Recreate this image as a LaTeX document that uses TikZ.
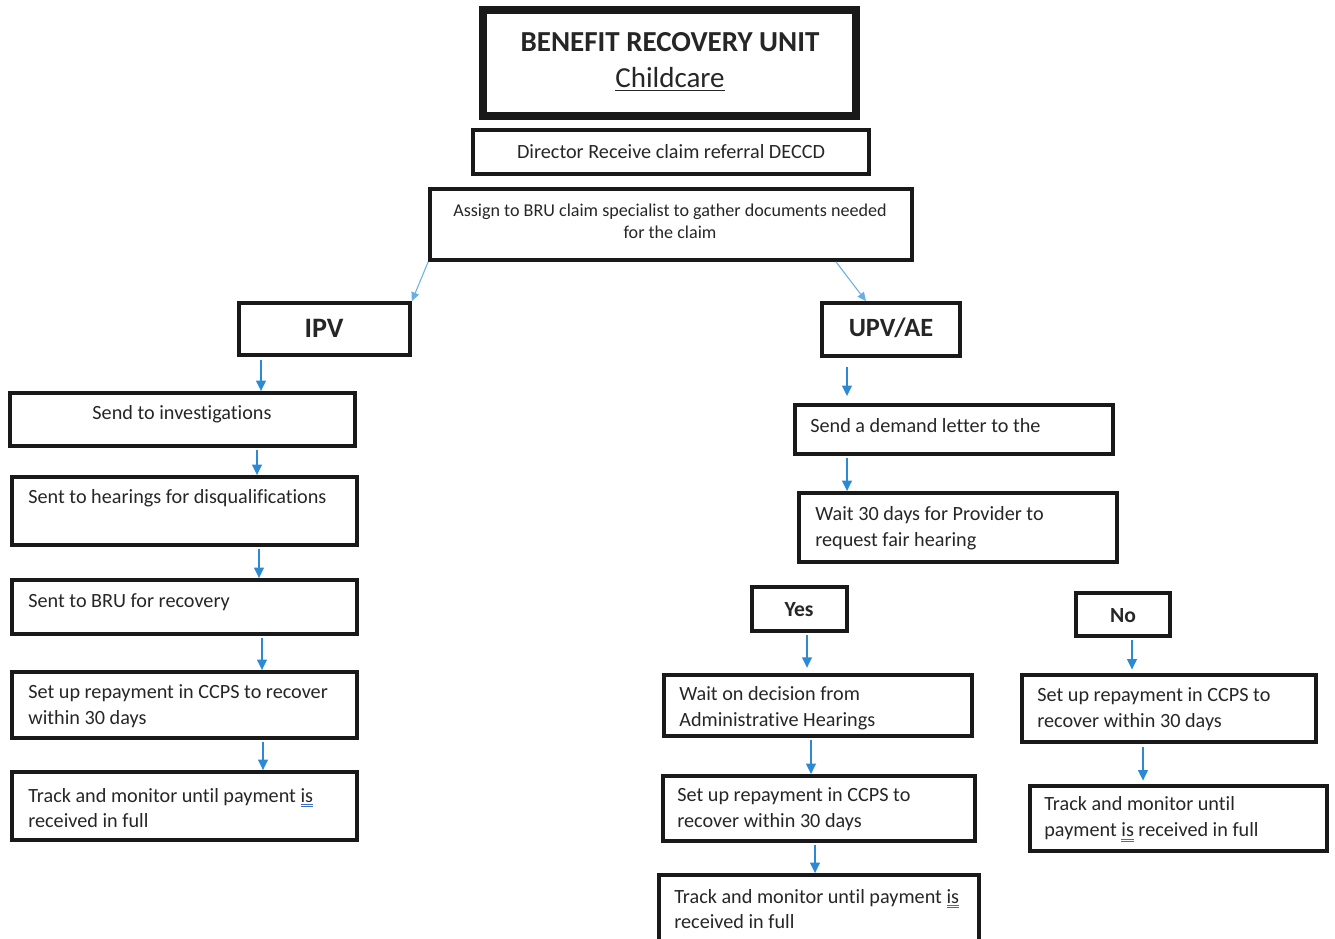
\documentclass[tikz,border=0pt]{standalone}
\usepackage{fontspec}
\setmainfont{Carlito}[Ligatures=NoCommon]
\usetikzlibrary{arrows.meta, positioning, fit}

\definecolor{flowblue}{HTML}{2C8AD5}
\definecolor{flowblue2}{HTML}{6AAEE6}
\definecolor{gramblue}{HTML}{3C6FC4}

% word-processor style double underline
\newcommand{\gramis}[1]{\setbox0\hbox{#1}\rlap{\textcolor{gramblue}{\rule[-1.7pt]{\wd0}{0.45pt}\hskip-\wd0\rule[-2.9pt]{\wd0}{0.45pt}}}#1}

\tikzset{
  box/.style={draw=black!90, line width=2.1pt, inner sep=0pt},
  txt/.style={font=\fontsize{11.5}{14.7}\selectfont, text=black!85, align=left, inner sep=0pt},
  arr/.style={draw=flowblue, line width=1.1pt, -{Triangle[length=6pt,width=5.5pt]}},
  arrthin/.style={draw=flowblue2, line width=0.6pt, -{Triangle[length=5pt,width=4.5pt]}},
}

\begin{document}
\begin{tikzpicture}[x=0.02cm, y=-0.02cm]
  \useasboundingbox (0,0) rectangle (1335,939);

  % Title
  \node[box, line width=4pt, fit={(483,10) (856,116)}] (title) {};
  \node[txt, align=center, font=\fontsize{16.5}{20.4}\selectfont] (title-t) at (670,62)
    {\textbf{BENEFIT RECOVERY UNIT}\\\underline{Childcare}};

  % Top of the flow
  \node[box, fit={(473,130) (869,174)}] (dir) {};
  \node[txt] (dir-t) at (671,152) {Director Receive claim referral DECCD};

  \node[box, fit={(430,189) (912,260)}] (assign) {};
  \node[txt, align=center, font=\fontsize{10.3}{12.5}\selectfont] (assign-t) at (670,221)
    {Assign to BRU claim specialist to gather documents needed\\for the claim};

  \node[box, fit={(239,303) (410,355)}] (ipv) {};
  \node[txt, font=\fontsize{16}{19}\bfseries] (ipv-t) at (324,328) {IPV};

  \node[box, fit={(822,303) (960,356)}] (upv) {};
  \node[txt, font=\fontsize{15}{18}\bfseries] (upv-t) at (891,328) {UPV/AE};

  % IPV branch
  \node[box, fit={(10,393) (355,446)}] (inv) {};
  \node[txt] (inv-t) at (182,414) {Send to investigations};

  \node[box, fit={(12,477) (357,545)}] (hear) {};
  \node[txt, anchor=west] (hear-t) at (28,498) {Sent to hearings for disqualifications};

  \node[box, fit={(12,580) (357,634)}] (bru) {};
  \node[txt, anchor=west] (bru-t) at (28,602) {Sent to BRU for recovery};

  \node[box, fit={(12,672) (357,738)}] (rep) {};
  \node[txt, anchor=west] (rep-t) at (28,706) {Set up repayment in CCPS to recover\\within 30 days};

  \node[box, fit={(12,772) (357,840)}] (trk) {};
  \node[txt, anchor=west] (trk-t) at (28,808) {Track and monitor until payment \gramis{is}\\received in full};

  % UPV/AE branch
  \node[box, fit={(795,405) (1113,454)}] (dem) {};
  \node[txt, anchor=west] (dem-t) at (810,426) {Send a demand letter to the};

  \node[box, fit={(799,493) (1117,562)}] (wait) {};
  \node[txt, anchor=west] (wait-t) at (815,528) {Wait 30 days for Provider to\\request fair hearing};

  \node[box, fit={(752,587) (847,631)}] (yes) {};
  \node[txt, font=\fontsize{12.3}{14}\bfseries] (yes-t) at (799,610) {Yes};

  \node[box, fit={(1076,593) (1170,636)}] (no) {};
  \node[txt, font=\fontsize{12.3}{14}\bfseries] (no-t) at (1123,616) {No};

  \node[box, fit={(664,675) (972,736)}] (dec) {};
  \node[txt, anchor=west] (dec-t) at (679,708) {Wait on decision from\\Administrative Hearings};

  \node[box, fit={(663,776) (975,841)}] (rep2) {};
  \node[txt, anchor=west] (rep2-t) at (677,809) {Set up repayment in CCPS to\\recover within 30 days};

  \node[box, fit={(659,875) (979,952)}] (trk2) {};
  \node[txt, anchor=west] (trk2-t) at (674,909) {Track and monitor until payment \gramis{is}\\received in full};

  \node[box, fit={(1022,675) (1316,742)}] (rep3) {};
  \node[txt, anchor=west] (rep3-t) at (1037,709) {Set up repayment in CCPS to\\recover within 30 days};

  \node[box, fit={(1030,786) (1327,851)}] (trk3) {};
  \node[txt, anchor=west] (trk3-t) at (1044,819) {Track and monitor until\\payment \gramis{is} received in full};

  % Connectors
  \draw[arrthin] (assign.south west) -- (ipv.north east);
  \draw[arrthin] (assign.south -| 836,0) -- (upv.north -| 866,0);

  \draw[arr, shorten <=2pt] (ipv.south -| 261,0) -- (inv.north -| 261,0);
  \draw[arr, shorten <=1pt] (inv.south -| 257,0) -- (hear.north -| 257,0);
  \draw[arr, shorten <=1pt] (hear.south -| 259,0) -- (bru.north -| 259,0);
  \draw[arr, shorten <=1pt] (bru.south -| 262,0) -- (rep.north -| 262,0);
  \draw[arr, shorten <=1pt] (rep.south -| 263,0) -- (trk.north -| 263,0);

  \draw[arr, shorten <=5pt, shorten >=4pt] (upv.south -| 847,0) -- (dem.north -| 847,0);
  \draw[arr, shorten <=1pt] (dem.south -| 847,0) -- (wait.north -| 847,0);

  \draw[arr, shorten <=1pt, shorten >=3pt] (yes.south -| 807,0) -- (dec.north -| 807,0);
  \draw[arr, shorten <=1pt] (dec.south -| 811,0) -- (rep2.north -| 811,0);
  \draw[arr, shorten <=1pt] (rep2.south -| 815,0) -- (trk2.north -| 815,0);

  \draw[arr, shorten <=1pt, shorten >=2pt] (no.south -| 1132,0) -- (rep3.north -| 1132,0);
  \draw[arr, shorten <=2pt, shorten >=2pt] (rep3.south -| 1143,0) -- (trk3.north -| 1143,0);
\end{tikzpicture}
\end{document}
